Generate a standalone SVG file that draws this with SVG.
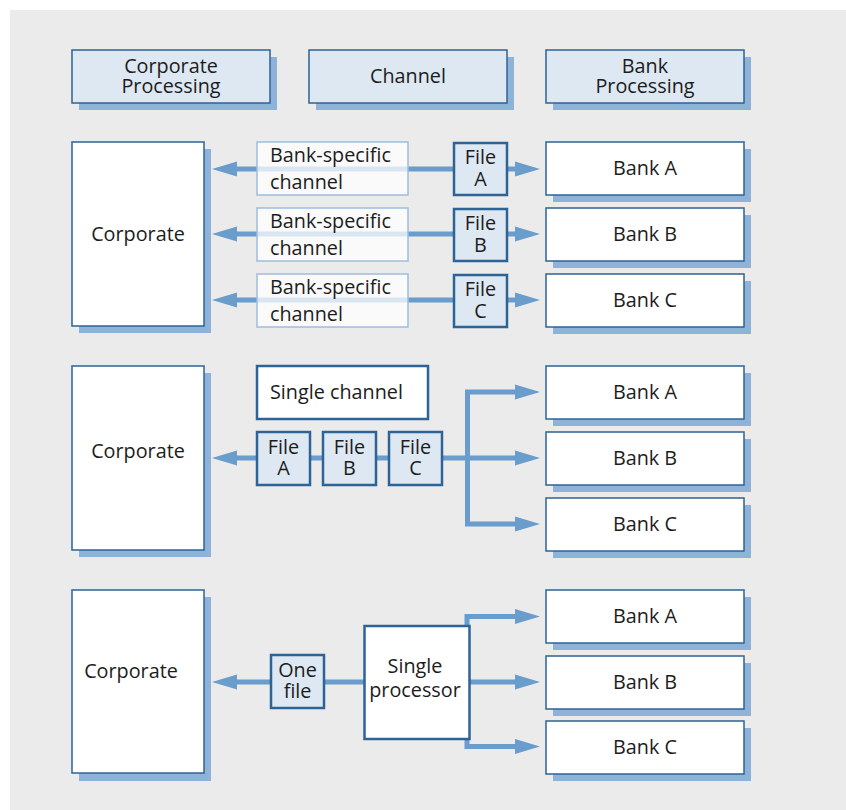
<svg xmlns="http://www.w3.org/2000/svg" width="846" height="810" viewBox="0 0 846 810">
<style>
text{font-family:"Open Sans","Noto Sans","DejaVu Sans",sans-serif;font-size:19.8px;fill:#1c1c1c}
.c{text-anchor:middle}
.sh{fill:#8fb2d8}
.hd{fill:#dde8f2;stroke:#2e6396;stroke-width:1.5}
.bx{fill:#ffffff;stroke:#2e6396;stroke-width:1.5}
.fl{fill:#dde8f2;stroke:#2e6396;stroke-width:2.5}
.wb{fill:#ffffff;stroke:#2e6396;stroke-width:2.5}
.bs{fill:#ffffff;fill-opacity:0.75;stroke:#9dbddf;stroke-width:1.5}
.ln{fill:none;stroke:#6a9ccc;stroke-width:5}
.ah{fill:#6a9ccc}
</style>
<rect x="10" y="10" width="836" height="800" fill="#ebebeb"/>

<!-- headers -->
<g id="hdr-corp"><rect class="sh" x="79" y="57" width="198" height="53"/><rect class="hd" x="72" y="50" width="198" height="53"/><text class="c" x="171" y="73">Corporate</text><text class="c" x="171" y="93">Processing</text></g>
<g id="hdr-channel"><rect class="sh" x="316" y="57" width="198" height="53"/><rect class="hd" x="309" y="50" width="198" height="53"/><text class="c" x="408" y="83">Channel</text></g>
<g id="hdr-bank"><rect class="sh" x="553" y="57" width="198" height="53"/><rect class="hd" x="546" y="50" width="198" height="53"/><text class="c" x="645" y="73">Bank</text><text class="c" x="645" y="93">Processing</text></g>

<!-- connectors -->
<g id="connectors">
<path class="ln" d="M234,169 H455 M505,169 H518 M234,234 H455 M505,234 H518 M234,300 H455 M505,300 H518"/>
<polygon class="ah" points="212,169 237,161.5 237,176.5"/>
<polygon class="ah" points="540,169 515,161.5 515,176.5"/>
<polygon class="ah" points="212,234 237,226.5 237,241.5"/>
<polygon class="ah" points="540,234 515,226.5 515,241.5"/>
<polygon class="ah" points="212,300 237,292.5 237,307.5"/>
<polygon class="ah" points="540,300 515,292.5 515,307.5"/>
<path class="ln" d="M234,458 H518 M518,392 H467.5 V524 H518"/>
<polygon class="ah" points="212,458 237,450.5 237,465.5"/>
<polygon class="ah" points="540,392 515,384.5 515,399.5"/>
<polygon class="ah" points="540,458 515,450.5 515,465.5"/>
<polygon class="ah" points="540,524 515,516.5 515,531.5"/>
<path class="ln" d="M234,682 H366 M468,682 H518 M467,628 V616.5 H518 M467,737 V746.5 H518"/>
<polygon class="ah" points="212,682 237,674.5 237,689.5"/>
<polygon class="ah" points="540,616.5 515,609 515,624"/>
<polygon class="ah" points="540,682 515,674.5 515,689.5"/>
<polygon class="ah" points="540,746.5 515,739 515,754"/>
</g>

<!-- section 1 -->
<g id="corp1"><rect class="sh" x="79" y="149" width="132" height="184"/><rect class="bx" x="72" y="142" width="132" height="184"/><text class="c" x="138" y="241">Corporate</text></g>
<g id="chan1a"><rect class="bs" x="257" y="142" width="151" height="53"/><text x="270" y="162">Bank-specific</text><text x="270" y="189">channel</text></g>
<g id="chan1b"><rect class="bs" x="257" y="208" width="151" height="53"/><text x="270" y="228">Bank-specific</text><text x="270" y="255">channel</text></g>
<g id="chan1c"><rect class="bs" x="257" y="274" width="151" height="53"/><text x="270" y="294">Bank-specific</text><text x="270" y="321">channel</text></g>
<g id="file1a"><rect class="fl" x="454" y="143" width="53" height="52"/><text class="c" x="480.5" y="164">File</text><text class="c" x="480.5" y="186">A</text></g>
<g id="file1b"><rect class="fl" x="454" y="209" width="53" height="52"/><text class="c" x="480.5" y="230">File</text><text class="c" x="480.5" y="252">B</text></g>
<g id="file1c"><rect class="fl" x="454" y="275" width="53" height="52"/><text class="c" x="480.5" y="296">File</text><text class="c" x="480.5" y="318">C</text></g>
<g id="bank1a"><rect class="sh" x="553" y="149" width="198" height="53"/><rect class="bx" x="546" y="142" width="198" height="53"/><text class="c" x="645" y="175">Bank A</text></g>
<g id="bank1b"><rect class="sh" x="553" y="215" width="198" height="53"/><rect class="bx" x="546" y="208" width="198" height="53"/><text class="c" x="645" y="241">Bank B</text></g>
<g id="bank1c"><rect class="sh" x="553" y="281" width="198" height="53"/><rect class="bx" x="546" y="274" width="198" height="53"/><text class="c" x="645" y="307">Bank C</text></g>

<!-- section 2 -->
<g id="corp2"><rect class="sh" x="79" y="373" width="132" height="184"/><rect class="bx" x="72" y="366" width="132" height="184"/><text class="c" x="138" y="458">Corporate</text></g>
<g id="single-channel"><rect class="wb" x="257" y="366" width="171" height="53"/><text x="270" y="399">Single channel</text></g>
<g id="file2a"><rect class="fl" x="257" y="432" width="53" height="53"/><text class="c" x="283.5" y="454">File</text><text class="c" x="283.5" y="475">A</text></g>
<g id="file2b"><rect class="fl" x="323" y="432" width="53" height="53"/><text class="c" x="349.5" y="454">File</text><text class="c" x="349.5" y="475">B</text></g>
<g id="file2c"><rect class="fl" x="389" y="432" width="53" height="53"/><text class="c" x="415.5" y="454">File</text><text class="c" x="415.5" y="475">C</text></g>
<g id="bank2a"><rect class="sh" x="553" y="373" width="198" height="53"/><rect class="bx" x="546" y="366" width="198" height="53"/><text class="c" x="645" y="399">Bank A</text></g>
<g id="bank2b"><rect class="sh" x="553" y="439" width="198" height="53"/><rect class="bx" x="546" y="432" width="198" height="53"/><text class="c" x="645" y="465">Bank B</text></g>
<g id="bank2c"><rect class="sh" x="553" y="505" width="198" height="53"/><rect class="bx" x="546" y="498" width="198" height="53"/><text class="c" x="645" y="531">Bank C</text></g>

<!-- section 3 -->
<g id="corp3"><rect class="sh" x="79" y="597" width="132" height="184"/><rect class="bx" x="72" y="590" width="132" height="183"/><text class="c" x="131" y="678">Corporate</text></g>
<g id="one-file"><rect class="fl" x="271" y="655" width="53" height="53"/><text class="c" x="297.5" y="677">One</text><text class="c" x="297.5" y="698">file</text></g>
<g id="single-processor"><rect class="wb" x="364.5" y="626" width="105" height="113"/><text class="c" x="415" y="673">Single</text><text class="c" x="415" y="697">processor</text></g>
<g id="bank3a"><rect class="sh" x="553" y="597" width="198" height="53"/><rect class="bx" x="546" y="590" width="198" height="53"/><text class="c" x="645" y="623">Bank A</text></g>
<g id="bank3b"><rect class="sh" x="553" y="663" width="198" height="53"/><rect class="bx" x="546" y="656" width="198" height="53"/><text class="c" x="645" y="689">Bank B</text></g>
<g id="bank3c"><rect class="sh" x="553" y="728" width="198" height="53"/><rect class="bx" x="546" y="721" width="198" height="53"/><text class="c" x="645" y="754">Bank C</text></g>
</svg>
